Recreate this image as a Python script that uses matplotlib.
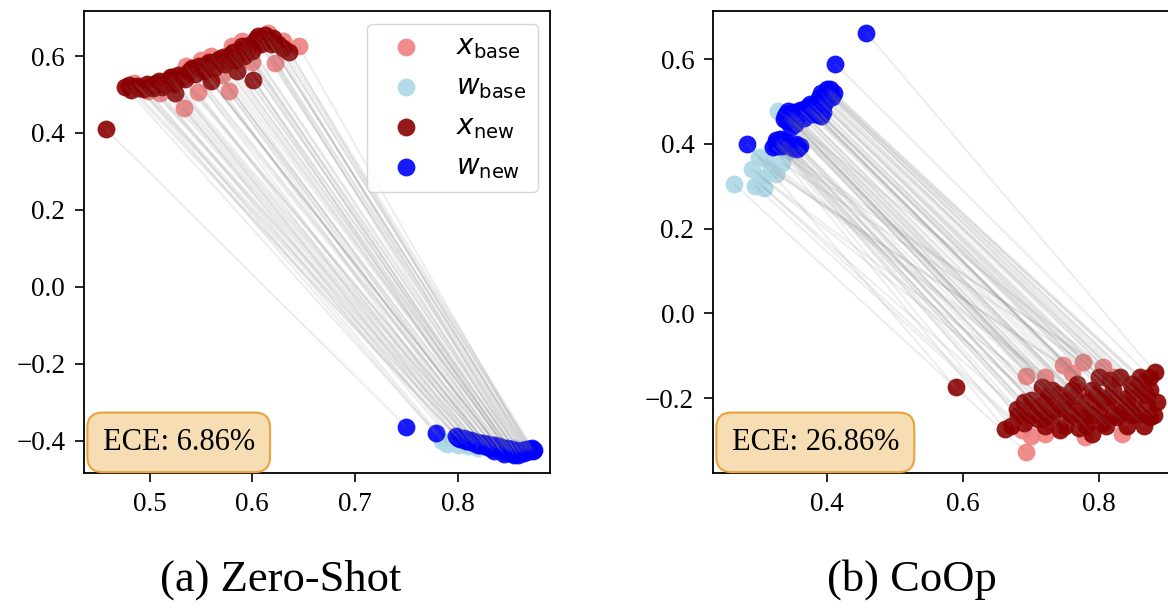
import numpy as np
import matplotlib.pyplot as plt
from matplotlib.collections import LineCollection

plt.rcParams['font.family'] = ['Liberation Serif', 'DejaVu Sans']
plt.rcParams['mathtext.fontset'] = 'dejavusans'

# ---- (a) Zero-Shot: image features x and text features w ----
zs_xbase_x = [0.485, 0.498, 0.510, 0.520, 0.533, 0.535, 0.547, 0.550, 0.560, 0.570, 0.577, 0.580, 0.590, 0.600, 0.615, 0.622, 0.630, 0.645]
zs_xbase_y = [0.530, 0.510, 0.505, 0.545, 0.466, 0.575, 0.506, 0.590, 0.600, 0.550, 0.510, 0.625, 0.640, 0.585, 0.660, 0.583, 0.640, 0.627]
zs_wbase_x = [0.785, 0.790, 0.795, 0.800, 0.805, 0.810, 0.815, 0.820, 0.825, 0.830, 0.835, 0.840, 0.845, 0.850, 0.855, 0.860, 0.865, 0.870]
zs_wbase_y = [-0.400, -0.408, -0.404, -0.412, -0.408, -0.415, -0.410, -0.418, -0.414, -0.420, -0.416, -0.422, -0.418, -0.425, -0.420, -0.427, -0.422, -0.425]
zs_xnew_x = [0.457, 0.476, 0.482, 0.488, 0.494, 0.500, 0.506, 0.512, 0.518, 0.524, 0.525, 0.528, 0.534, 0.538, 0.544, 0.548, 0.553, 0.558, 0.560,
             0.563, 0.568, 0.573, 0.578, 0.583, 0.585, 0.588, 0.592, 0.597, 0.600, 0.601, 0.604, 0.608, 0.612, 0.616, 0.620, 0.625, 0.630, 0.636,
             0.480, 0.490, 0.497, 0.503, 0.509, 0.515, 0.521, 0.531, 0.541, 0.550, 0.556, 0.566, 0.571, 0.576, 0.581, 0.590, 0.595, 0.606, 0.610, 0.618]
zs_xnew_y = [0.410, 0.520, 0.512, 0.523, 0.515, 0.522, 0.530, 0.520, 0.538, 0.528, 0.505, 0.550, 0.540, 0.562, 0.552, 0.575, 0.560, 0.585, 0.535,
             0.570, 0.592, 0.580, 0.603, 0.590, 0.560, 0.615, 0.600, 0.628, 0.612, 0.538, 0.645, 0.630, 0.655, 0.638, 0.648, 0.630, 0.622, 0.610,
             0.525, 0.518, 0.528, 0.518, 0.535, 0.528, 0.545, 0.545, 0.568, 0.565, 0.580, 0.585, 0.598, 0.590, 0.610, 0.625, 0.612, 0.652, 0.640, 0.630]
zs_wnew_x = [0.750, 0.779, 0.798, 0.802, 0.806, 0.810, 0.813, 0.816, 0.819, 0.822, 0.825, 0.827, 0.830, 0.832, 0.835, 0.837, 0.840, 0.842, 0.844,
             0.846, 0.848, 0.850, 0.852, 0.854, 0.856, 0.858, 0.860, 0.862, 0.864, 0.866, 0.868, 0.870, 0.872, 0.874, 0.845, 0.835, 0.855, 0.865,
             0.800, 0.808, 0.814, 0.820, 0.826, 0.831, 0.836, 0.841, 0.843, 0.849, 0.851, 0.853, 0.857, 0.859, 0.861, 0.863, 0.867, 0.869, 0.871, 0.873]
zs_wnew_y = [-0.364, -0.381, -0.388, -0.396, -0.392, -0.402, -0.398, -0.407, -0.403, -0.410, -0.406, -0.414, -0.409, -0.418, -0.412, -0.420, -0.415, -0.424, -0.418,
             -0.426, -0.420, -0.428, -0.422, -0.430, -0.424, -0.433, -0.426, -0.430, -0.424, -0.428, -0.421, -0.426, -0.420, -0.424, -0.434, -0.428, -0.436, -0.432,
             -0.392, -0.400, -0.404, -0.412, -0.410, -0.416, -0.420, -0.418, -0.428, -0.424, -0.432, -0.426, -0.428, -0.436, -0.430, -0.426, -0.425, -0.428, -0.422, -0.428]

# ---- (b) CoOp ----
co_xbase_x = [0.692, 0.692, 0.721, 0.779, 0.834, 0.687, 0.776, 0.747, 0.721, 0.805, 0.700, 0.760, 0.820, 0.850]
co_xbase_y = [-0.327, -0.147, -0.284, -0.292, -0.284, -0.276, -0.115, -0.123, -0.150, -0.127, -0.290, -0.140, -0.150, -0.180]
co_wbase_x = [0.264, 0.300, 0.295, 0.326, 0.311, 0.329, 0.342, 0.308, 0.318, 0.290, 0.335, 0.305, 0.300, 0.320]
co_wbase_y = [0.305, 0.309, 0.301, 0.329, 0.364, 0.478, 0.380, 0.297, 0.340, 0.340, 0.355, 0.320, 0.370, 0.390]
co_xnew_x = [0.589, 0.661, 0.679, 0.690, 0.700, 0.710, 0.716, 0.721, 0.732, 0.740, 0.742, 0.753, 0.758, 0.768, 0.770,
             0.779, 0.790, 0.795, 0.805, 0.805, 0.816, 0.826, 0.832, 0.840, 0.847, 0.858, 0.860, 0.868, 0.874, 0.882,
             0.800, 0.830, 0.860, 0.875, 0.730, 0.760, 0.790, 0.820, 0.850, 0.875, 0.690, 0.720, 0.750, 0.780, 0.810, 0.840,
             0.870, 0.680, 0.700, 0.730, 0.760, 0.790, 0.820, 0.850, 0.880, 0.670, 0.720, 0.750, 0.780, 0.810, 0.840, 0.865,
             0.695, 0.710, 0.725, 0.745, 0.765, 0.775, 0.800, 0.815, 0.835, 0.855, 0.865, 0.885]
co_xnew_y = [-0.174, -0.272, -0.225, -0.260, -0.205, -0.220, -0.174, -0.245, -0.229, -0.190, -0.276, -0.205, -0.237, -0.166, -0.270,
             -0.245, -0.284, -0.190, -0.260, -0.205, -0.158, -0.245, -0.213, -0.200, -0.166, -0.237, -0.170, -0.190, -0.245, -0.139,
             -0.150, -0.150, -0.150, -0.150, -0.180, -0.180, -0.180, -0.180, -0.180, -0.180, -0.210, -0.210, -0.210, -0.210, -0.210, -0.210,
             -0.210, -0.240, -0.240, -0.240, -0.240, -0.240, -0.240, -0.240, -0.240, -0.265, -0.265, -0.265, -0.265, -0.265, -0.265, -0.265,
             -0.235, -0.250, -0.195, -0.225, -0.195, -0.225, -0.230, -0.195, -0.230, -0.200, -0.160, -0.210]
co_wnew_x = [0.458, 0.412, 0.400, 0.405, 0.410, 0.389, 0.376, 0.392, 0.398, 0.370, 0.385, 0.395, 0.345, 0.337, 0.353,
             0.360, 0.350, 0.342, 0.380, 0.348, 0.326, 0.321, 0.355, 0.360, 0.330, 0.335, 0.325, 0.283, 0.352, 0.400,
             0.340, 0.345, 0.350, 0.355, 0.360, 0.365, 0.370, 0.375, 0.380, 0.385, 0.390, 0.395, 0.400, 0.405, 0.395, 0.390,
             0.330, 0.325, 0.335, 0.340, 0.355, 0.350, 0.345, 0.338, 0.402, 0.408, 0.385, 0.372, 0.362, 0.328, 0.332, 0.358,
             0.343, 0.352, 0.366, 0.378, 0.388, 0.398, 0.404, 0.336, 0.327, 0.357, 0.392, 0.348]
co_wnew_y = [0.663, 0.590, 0.521, 0.515, 0.520, 0.502, 0.494, 0.466, 0.505, 0.485, 0.480, 0.490, 0.466, 0.459, 0.447,
             0.480, 0.470, 0.455, 0.470, 0.440, 0.404, 0.392, 0.393, 0.395, 0.410, 0.402, 0.398, 0.400, 0.460, 0.530,
             0.470, 0.460, 0.475, 0.465, 0.470, 0.475, 0.480, 0.485, 0.490, 0.495, 0.500, 0.510, 0.515, 0.520, 0.475, 0.470,
             0.400, 0.410, 0.395, 0.405, 0.400, 0.390, 0.455, 0.465, 0.525, 0.510, 0.470, 0.488, 0.478, 0.395, 0.412, 0.395,
             0.478, 0.452, 0.462, 0.478, 0.508, 0.498, 0.530, 0.408, 0.402, 0.388, 0.520, 0.468]

ece_labels = ['ECE: 6.86%', 'ECE: 26.86%']
captions = ['(a) Zero-Shot', '(b) CoOp']


def rank_pairs(ax_, ay_, bx_, by_, kx, ky):
    # pair points of both clouds by their rank across the bundle
    a = np.column_stack([ax_, ay_])
    b = np.column_stack([bx_, by_])
    ia = np.argsort(kx * a[:, 0] + ky * a[:, 1])
    ib = np.argsort(kx * b[:, 0] + ky * b[:, 1])
    return [[a[i], b[j]] for i, j in zip(ia, ib)]


def draw_panel(ax, xb, wb, xn, wn, key, ece):
    ax.scatter(xb[0], xb[1], s=165, c='lightcoral', alpha=0.9, lw=0, label=r'$x_{\mathrm{base}}$', zorder=2)
    ax.scatter(wb[0], wb[1], s=165, c='lightblue', alpha=0.9, lw=0, label=r'$w_{\mathrm{base}}$', zorder=2)
    ax.scatter(xn[0], xn[1], s=165, c='darkred', alpha=0.9, lw=0, label=r'$x_{\mathrm{new}}$', zorder=2)
    ax.scatter(wn[0], wn[1], s=165, c='blue', alpha=0.9, lw=0, label=r'$w_{\mathrm{new}}$', zorder=2)
    segs = rank_pairs(xb[0], xb[1], wb[0], wb[1], *key) + rank_pairs(xn[0], xn[1], wn[0], wn[1], *key)
    ax.add_collection(LineCollection(segs, colors='gray', alpha=0.14, linewidths=1.5, zorder=3))
    ax.text(0.04, 0.035, ece, transform=ax.transAxes, fontsize=22, ha='left', va='bottom', zorder=5,
            bbox=dict(boxstyle='round,pad=0.5', fc='#f6ddb3', ec='#e8a33d', lw=1.5))
    ax.tick_params(labelsize=19.5, length=6.5, width=1.2, pad=7)
    for sp in ax.spines.values():
        sp.set_linewidth(1.3)


fig = plt.figure(figsize=(11.68, 6.12), dpi=100)
ax1 = fig.add_axes([84 / 1168, 139 / 612, 466 / 1168, 462 / 612])
ax2 = fig.add_axes([713 / 1168, 139 / 612, 466 / 1168, 462 / 612])

draw_panel(ax1, (zs_xbase_x, zs_xbase_y), (zs_wbase_x, zs_wbase_y), (zs_xnew_x, zs_xnew_y), (zs_wnew_x, zs_wnew_y), (1.0, 0.3), ece_labels[0])
ax1.set_xlim(0.436, 0.890)
ax1.set_ylim(-0.484, 0.717)
ax1.set_xticks([0.5, 0.6, 0.7, 0.8])
ax1.set_yticks([-0.4, -0.2, 0.0, 0.2, 0.4, 0.6])
ax1.legend(loc='upper right', fontsize=20, borderaxespad=0.45)

draw_panel(ax2, (co_xbase_x, co_xbase_y), (co_wbase_x, co_wbase_y), (co_xnew_x, co_xnew_y), (co_wnew_x, co_wnew_y), (2.0, 1.0), ece_labels[1])
ax2.set_xlim(0.233, 0.917)
ax2.set_ylim(-0.377, 0.714)
ax2.set_xticks([0.4, 0.6, 0.8])
ax2.set_yticks([-0.2, 0.0, 0.2, 0.4, 0.6])

fig.text(281 / 1168, 1 - 580 / 612, captions[0], fontsize=32, ha='center', va='center')
fig.text(912 / 1168, 1 - 580 / 612, captions[1], fontsize=32, ha='center', va='center')

fig.savefig('out.png', dpi=100)
